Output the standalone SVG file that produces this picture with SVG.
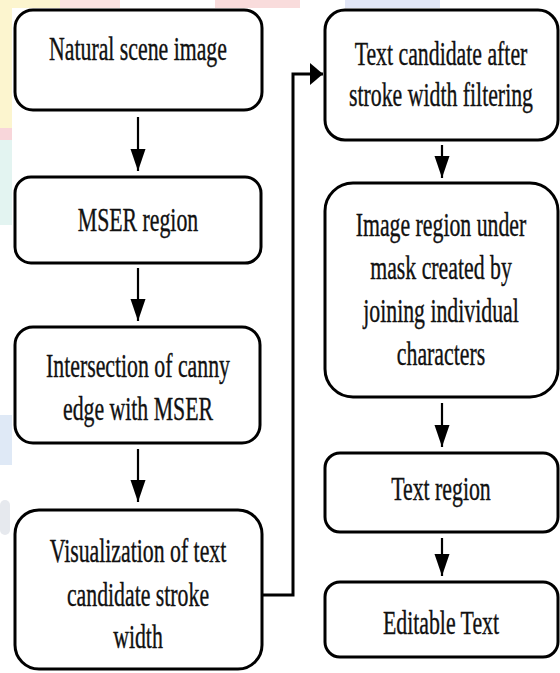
<svg xmlns="http://www.w3.org/2000/svg" width="560" height="673" viewBox="0 0 560 673">
  <defs>
    <style>
      .box { fill: #ffffff; stroke: #000000; stroke-width: 3; }
      .lbl { font-family: "Liberation Serif", "Times New Roman", serif; font-size: 21.8px; text-anchor: middle; fill: #111111; stroke: #111111; stroke-width: 0.25; }
      .flow { fill: none; stroke: #000000; stroke-width: 2.2; }
      .link { fill: none; stroke: #000000; stroke-width: 3; }
    </style>
    <marker id="down" viewBox="0 -8 22 16" markerWidth="22" markerHeight="16" refX="22" refY="0" orient="auto" markerUnits="userSpaceOnUse">
      <path d="M0,-7.5 L22,0 L0,7.5 Z" fill="#000"/>
    </marker>
    <marker id="side" viewBox="0 -12 13 24" markerWidth="13" markerHeight="24" refX="13" refY="0" orient="auto" markerUnits="userSpaceOnUse">
      <path d="M0,-11 L13,0 L0,11 Z" fill="#000"/>
    </marker>
  </defs>

  <!-- page background with faint coloured margins -->
  <rect x="0" y="0" width="560" height="673" fill="#ffffff"/>
  <g id="margin-tint">
    <rect x="0" y="0" width="12" height="128" fill="#fcf5cf"/>
    <rect x="0" y="128" width="12" height="12" fill="#f8d6da"/>
    <rect x="0" y="140" width="12" height="85" fill="#e3f4f1"/>
    <rect x="0" y="415" width="12" height="50" fill="#dfe9f6"/>
    <rect x="0" y="500" width="10" height="35" rx="5" fill="#e6e9ee"/>
    <rect x="0" y="0" width="60" height="8" fill="#fcf5cf"/>
    <rect x="60" y="0" width="60" height="8" fill="#fbe3e2"/>
    <rect x="215" y="0" width="85" height="8" fill="#f9dcdc"/>
    <rect x="345" y="0" width="95" height="8" fill="#e2e6f6"/>
  </g>

  <!-- connectors -->
  <g id="connectors">
    <line class="flow" x1="138" y1="117" x2="138" y2="171" marker-end="url(#down)"/>
    <line class="flow" x1="138" y1="268" x2="138" y2="321" marker-end="url(#down)"/>
    <line class="flow" x1="138" y1="449" x2="138" y2="502" marker-end="url(#down)"/>
    <line class="flow" x1="442" y1="145" x2="442" y2="178" marker-end="url(#down)"/>
    <line class="flow" x1="442" y1="403" x2="442" y2="447" marker-end="url(#down)"/>
    <line class="flow" x1="442" y1="538" x2="442" y2="576" marker-end="url(#down)"/>
    <polyline class="link" points="262,595 293,595 293,74 323,74" marker-end="url(#side)"/>
  </g>

  <!-- left column -->
  <g id="natural-scene-image">
    <rect class="box" x="15" y="10" width="247" height="100" rx="18"/>
    <text class="lbl" transform="translate(138,60) scale(1,1.56)">Natural scene image</text>
  </g>
  <g id="mser-region">
    <rect class="box" x="15" y="177" width="246" height="86" rx="16"/>
    <text class="lbl" transform="translate(138,231) scale(1,1.56)">MSER region</text>
  </g>
  <g id="canny-intersection">
    <rect class="box" x="15" y="327" width="245" height="116" rx="18"/>
    <text class="lbl" transform="translate(138,377) scale(1,1.56)">Intersection of canny</text>
    <text class="lbl" transform="translate(138,420) scale(1,1.56)">edge with MSER</text>
  </g>
  <g id="stroke-width-visualization">
    <rect class="box" x="15" y="510" width="247" height="159" rx="24"/>
    <text class="lbl" transform="translate(138,562) scale(1,1.56)">Visualization of text</text>
    <text class="lbl" transform="translate(138,606) scale(1,1.56)">candidate stroke</text>
    <text class="lbl" transform="translate(138,648) scale(1,1.56)">width</text>
  </g>

  <!-- right column -->
  <g id="stroke-width-filtering">
    <rect class="box" x="325" y="10" width="233" height="130" rx="20"/>
    <text class="lbl" transform="translate(441,65) scale(1,1.56)">Text candidate after</text>
    <text class="lbl" transform="translate(441,106) scale(1,1.56)">stroke width filtering</text>
  </g>
  <g id="masked-region">
    <rect class="box" x="325" y="183" width="233" height="214" rx="28"/>
    <text class="lbl" transform="translate(441,236) scale(1,1.56)">Image region under</text>
    <text class="lbl" transform="translate(441,279) scale(1,1.56)">mask created by</text>
    <text class="lbl" transform="translate(441,322) scale(1,1.56)">joining individual</text>
    <text class="lbl" transform="translate(441,365) scale(1,1.56)">characters</text>
  </g>
  <g id="text-region">
    <rect class="box" x="325" y="453" width="233" height="79" rx="15"/>
    <text class="lbl" transform="translate(441,500) scale(1,1.56)">Text region</text>
  </g>
  <g id="editable-text">
    <rect class="box" x="325" y="582" width="233" height="75" rx="15"/>
    <text class="lbl" transform="translate(441,634) scale(1,1.56)">Editable Text</text>
  </g>
</svg>
